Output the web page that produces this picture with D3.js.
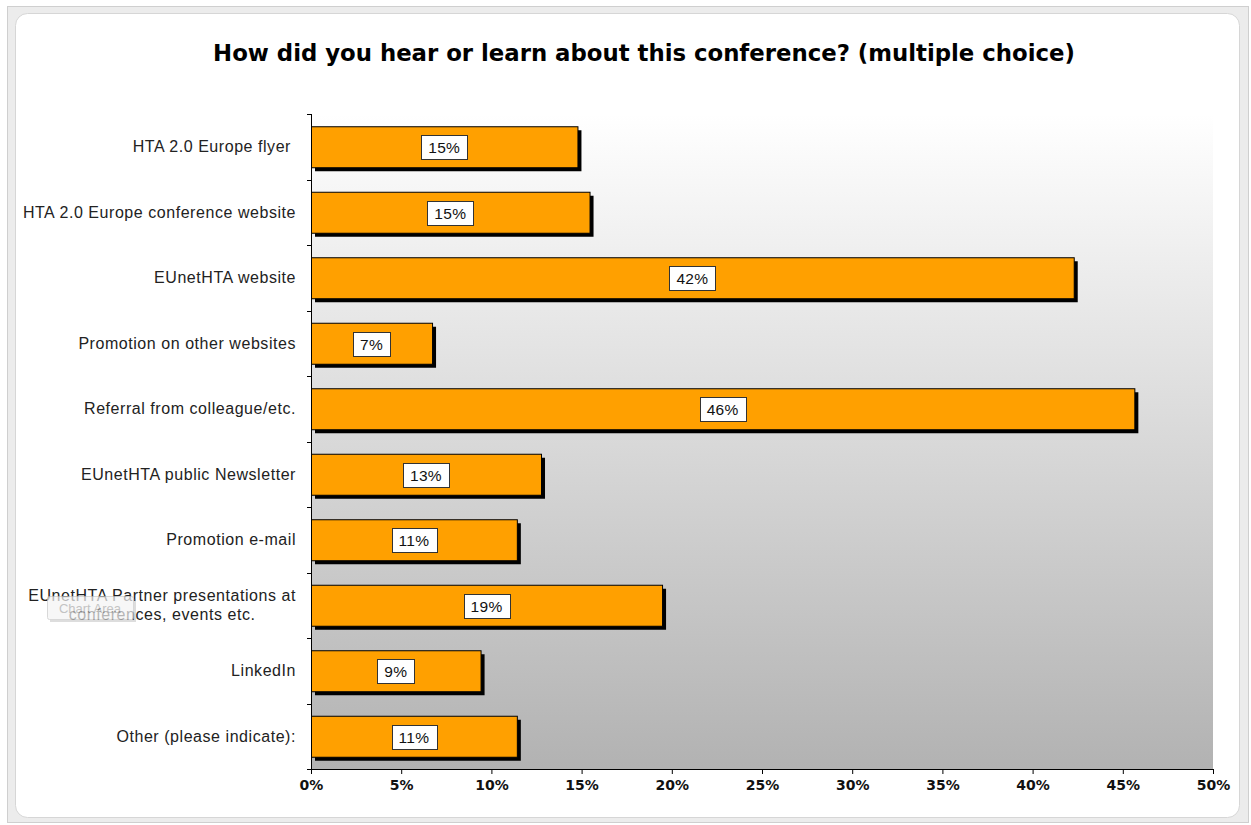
<!DOCTYPE html>
<html>
<head>
<meta charset="utf-8">
<script src="https://cdn.jsdelivr.net/npm/d3@7"></script>
<style>
  html, body { margin: 0; padding: 0; background: #ffffff; }
  svg { display: block; }
</style>
</head>
<body>
<svg id="chart" width="1251" height="825"></svg>
<script>
const title = "How did you hear or learn about this conference? (multiple choice)";
const categories = [
  "HTA 2.0 Europe flyer ",
  "HTA 2.0 Europe conference website",
  "EUnetHTA website",
  "Promotion on other websites",
  "Referral from colleague/etc.",
  "EUnetHTA public Newsletter",
  "Promotion e-mail",
  "EUnetHTA Partner presentations at conferences, events etc.",
  "LinkedIn",
  "Other (please indicate):"
];
const values = [14.77, 15.44, 42.28, 6.71, 45.64, 12.75, 11.41, 19.46, 9.40, 11.41];
const xTicks = [0, 5, 10, 15, 20, 25, 30, 35, 40, 45, 50];

const svg = d3.select("#chart");
const plot = { left: 311, right: 1213, top: 114, bottom: 769 };

// frame
svg.append("rect").attr("x", 7.5).attr("y", 6.5).attr("width", 1241).attr("height", 816)
  .attr("fill", "#ececec").attr("stroke", "#cfcfcf");
svg.append("rect").attr("x", 15.5).attr("y", 13.5).attr("width", 1224).attr("height", 804)
  .attr("rx", 12).attr("fill", "#ffffff").attr("stroke", "#d6d6d6");

// gradient
const defs = svg.append("defs");
const grad = defs.append("linearGradient").attr("id", "pg").attr("x1", 0).attr("y1", 0).attr("x2", 0).attr("y2", 1);
grad.append("stop").attr("offset", "0%").attr("stop-color", "#ffffff");
grad.append("stop").attr("offset", "100%").attr("stop-color", "#b2b2b2");

const x = d3.scaleLinear().domain([0, 50]).range([plot.left, plot.right]);
const y = d3.scaleBand().domain(categories).range([plot.top, plot.bottom]).padding(0);
const step = y.step();
const barH = step * 0.626;
const barOff = (step - barH) / 2;

svg.append("rect").attr("x", plot.left).attr("y", plot.top)
  .attr("width", plot.right - plot.left).attr("height", plot.bottom - plot.top)
  .attr("fill", "url(#pg)");

// title
svg.append("text").attr("x", 644).attr("y", 61).attr("text-anchor", "middle")
  .attr("font-family", "DejaVu Sans, Verdana, sans-serif").attr("font-weight", "bold")
  .attr("font-size", 22.8).attr("fill", "#000").text(title);

const data = categories.map((c, i) => ({ c, v: values[i] }));

// shadows
svg.append("g").selectAll("rect").data(data).join("rect")
  .attr("x", x(0) + 4).attr("y", d => y(d.c) + barOff + 4)
  .attr("width", d => x(d.v) - x(0)).attr("height", barH)
  .attr("fill", "#000");
// bars
svg.append("g").selectAll("rect").data(data).join("rect")
  .attr("x", x(0) + 0.5).attr("y", d => y(d.c) + barOff + 0.5)
  .attr("width", d => x(d.v) - x(0)).attr("height", barH)
  .attr("fill", "#ffa000").attr("stroke", "#000").attr("stroke-width", 1);

// y axis
const yAxis = svg.append("g");
yAxis.append("line").attr("x1", plot.left + 0.5).attr("x2", plot.left + 0.5)
  .attr("y1", plot.top).attr("y2", plot.bottom).attr("stroke", "#000");
const bounds = categories.map(c => y(c)).concat([plot.bottom]);
yAxis.selectAll("line.t").data(bounds).join("line").attr("class", "t")
  .attr("x1", plot.left - 4).attr("x2", plot.left)
  .attr("y1", d => Math.round(d) + 0.5).attr("y2", d => Math.round(d) + 0.5).attr("stroke", "#000");

// category labels
const labelX = 296;
const catG = svg.append("g").attr("font-family", "Liberation Sans, Arial, sans-serif")
  .attr("font-size", 16).attr("letter-spacing", 0.55).attr("fill", "#222");
function measure(s) {
  const p = catG.append("text").text(s);
  const w = p.node().getComputedTextLength();
  p.remove();
  return w;
}
data.forEach(d => {
  const cy = y(d.c) + step / 2;
  const t = catG.append("text").attr("text-anchor", "end");
  const words = d.c.split(" ");
  if (measure(d.c) <= 290) {
    t.attr("x", labelX).attr("y", cy).attr("dy", "0.35em").attr("xml:space", "preserve").text(d.c);
  } else {
    let lines = [], cur = [];
    words.forEach(w => {
      const test = cur.concat([w]).join(" ");
      if (measure(test) > 290 && cur.length) { lines.push(cur.join(" ")); cur = [w]; }
      else cur.push(w);
    });
    lines.push(cur.join(" "));
    const maxW = d3.max(lines, measure);
    const cx = labelX - maxW / 2;
    t.attr("text-anchor", "middle");
    const lh = 19;
    lines.forEach((l, i) => {
      t.append("tspan").attr("x", cx).attr("y", cy + (i - (lines.length - 1) / 2) * lh)
        .attr("dy", "0.35em").text(l);
    });
  }
});

// x axis
const xAxis = svg.append("g").attr("transform", `translate(0,${plot.bottom})`)
  .call(d3.axisBottom(x).tickValues(xTicks).tickSize(5).tickSizeOuter(0).tickFormat(d => d + "%"));
xAxis.select(".domain").attr("stroke", "#000");
xAxis.selectAll(".tick line").attr("stroke", "#000");
xAxis.selectAll(".tick text").attr("font-family", "DejaVu Sans, Verdana, sans-serif")
  .attr("font-weight", "bold").attr("font-size", 14).attr("fill", "#111").attr("dy", "0.95em");

// data labels
const fmt = v => Math.round(v) + "%";
const lblG = svg.append("g");
data.forEach(d => {
  const cx = (x(0) + x(d.v)) / 2;
  const cy = y(d.c) + step / 2 + 1;
  const t = lblG.append("text").attr("x", cx).attr("y", cy).attr("dy", "0.35em")
    .attr("text-anchor", "middle").attr("font-family", "Liberation Sans, Arial, sans-serif")
    .attr("font-size", 15.5).attr("letter-spacing", 0.3).attr("fill", "#111").text(fmt(d.v));
  const w = t.node().getComputedTextLength() + 14;
  lblG.insert("rect", "text").attr("x", Math.round(cx - w / 2) + 0.5).attr("y", Math.round(cy - 12.5) + 0.5)
    .attr("width", Math.round(w)).attr("height", 24)
    .attr("fill", "#fff").attr("stroke", "#333");
});

// "Chart Area" tooltip artifact
const tip = svg.append("g").attr("opacity", 0.7);
tip.append("rect").attr("x", 50).attr("y", 599).attr("width", 86).attr("height", 23).attr("fill", "#888").attr("opacity", 0.4);
tip.append("rect").attr("x", 47.5).attr("y", 596.5).attr("width", 86).attr("height", 23).attr("rx", 2)
  .attr("fill", "#f4f4f4").attr("stroke", "#c8c8c8");
tip.append("text").attr("x", 90).attr("y", 608).attr("dy", "0.35em").attr("text-anchor", "middle")
  .attr("font-family", "Liberation Sans, Arial, sans-serif").attr("font-size", 13).attr("fill", "#aaa").text("Chart Area");
</script>
</body>
</html>
